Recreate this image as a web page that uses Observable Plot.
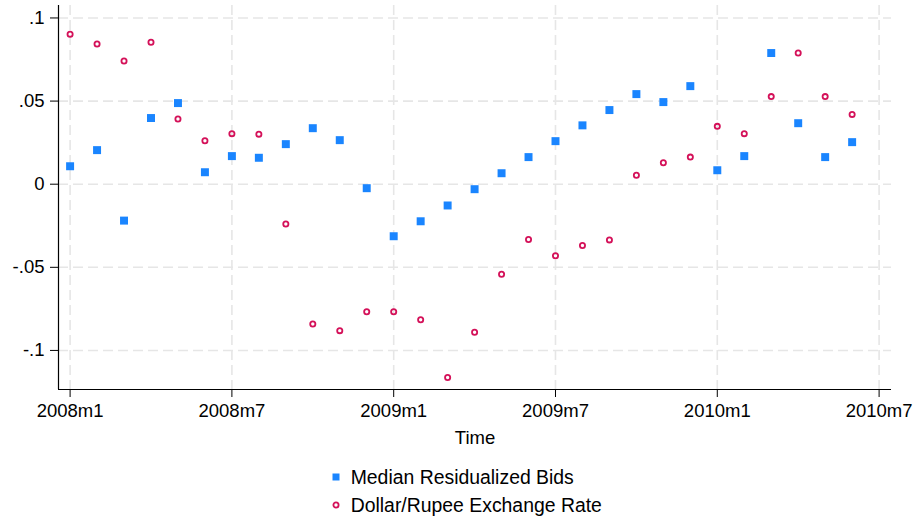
<!DOCTYPE html>
<html>
<head>
<meta charset="utf-8">
<script src="https://cdn.jsdelivr.net/npm/d3@7"></script>
<script src="https://cdn.jsdelivr.net/npm/@observablehq/plot@0.6"></script>
<style>
  body { margin: 0; background: #fff; }
  #chart { position: relative; width: 916px; height: 518px; font-family: "Liberation Sans", Arial, Helvetica, sans-serif; }
  #chart > svg { position: absolute; left: 0; top: 0; }
  .legend { position: absolute; left: 331px; top: 463px; font-size: 19.4px; color: #000; }
  .item { display: flex; align-items: center; height: 28px; white-space: nowrap; }
  .item svg { width: 10px; height: 10px; margin-right: 9.7px; flex: none; }
</style>
</head>
<body>
<div id="chart"></div>
<script>
// Monthly observations, 2008m1 through 2010m6
const months = [
  "2008m1","2008m2","2008m3","2008m4","2008m5","2008m6",
  "2008m7","2008m8","2008m9","2008m10","2008m11","2008m12",
  "2009m1","2009m2","2009m3","2009m4","2009m5","2009m6",
  "2009m7","2009m8","2009m9","2009m10","2009m11","2009m12",
  "2010m1","2010m2","2010m3","2010m4","2010m5","2010m6"
];
const medianBids = [
  0.0108, 0.0205, -0.0219, 0.0398, 0.0488, 0.0072,
  0.0169, 0.0159, 0.0241, 0.0337, 0.0265, -0.0024,
  -0.0313, -0.0223, -0.0128, -0.0030, 0.0066, 0.0163,
  0.0259, 0.0354, 0.0446, 0.0542, 0.0494, 0.0590,
  0.0084, 0.0169, 0.0789, 0.0367, 0.0163, 0.0253
];
const exchangeRate = [
  0.0902, 0.0843, 0.0741, 0.0854, 0.0392, 0.0261,
  0.0304, 0.0301, -0.0239, -0.0841, -0.0881, -0.0767,
  -0.0767, -0.0815, -0.1163, -0.0891, -0.0542, -0.0333,
  -0.0430, -0.0369, -0.0335, 0.0054, 0.0129, 0.0163,
  0.0348, 0.0304, 0.0527, 0.0789, 0.0527, 0.0420
];
const xTickLabels = ["2008m1","2008m7","2009m1","2009m7","2010m1","2010m7"];
const yTicks = [-0.1, -0.05, 0, 0.05, 0.1];
const seriesNames = ["Median Residualized Bids", "Dollar/Rupee Exchange Rate"];

const blue = "#1a85ff";
const red = "#d41159";

// "2008m7" -> months since 2008m1
const monthIndex = s => { const [y, m] = s.split("m").map(Number); return (y - 2008) * 12 + (m - 1); };
const labelFor = new Map(xTickLabels.map(s => [monthIndex(s), s]));
const fmtY = d => d === 0 ? "0" : String(d).replace("0.", ".");

const rows = months.map((m, i) => ({t: monthIndex(m), bids: medianBids[i], fx: exchangeRate[i]}));
const xDomain = [-0.43, 30.46];
const yDomain = [-0.1235, 0.1075];

const chart = Plot.plot({
  width: 916,
  height: 452,
  marginLeft: 58,
  marginRight: 25,
  marginTop: 5,
  marginBottom: 63,
  style: {fontSize: "18.5px", fontFamily: "'Liberation Sans', Arial, Helvetica, sans-serif", background: "#fff", color: "#000"},
  x: {domain: xDomain},
  y: {domain: yDomain},
  marks: [
    Plot.gridY(yTicks, {stroke: "#e6e6e6", strokeOpacity: 1, strokeWidth: 1.6, strokeDasharray: "10,5"}),
    Plot.gridX(xTickLabels.map(monthIndex), {stroke: "#e6e6e6", strokeOpacity: 1, strokeWidth: 1.6, strokeDasharray: "10,5"}),
    Plot.ruleX([xDomain[0]], {stroke: "#000", strokeWidth: 1.2}),
    Plot.ruleY([yDomain[0]], {stroke: "#000", strokeWidth: 1.2}),
    Plot.axisY(yTicks, {tickFormat: fmtY, tickSize: 8, tickPadding: 6, label: null}),
    Plot.axisX(xTickLabels.map(monthIndex), {
      tickFormat: d => labelFor.get(d), tickSize: 8, tickPadding: 6,
      label: "Time", labelAnchor: "center", labelArrow: "none", labelOffset: 54
    }),
    Plot.dot(rows, {x: "t", y: "bids", symbol: "square", r: 4.5, fill: blue, stroke: null}),
    Plot.dot(rows, {x: "t", y: "fx", symbol: "circle", r: 2.6, fill: "none", stroke: red, strokeWidth: 1.8})
  ]
});

const host = document.getElementById("chart");
host.appendChild(chart);

// Legend below the plot
const legend = document.createElement("div");
legend.className = "legend";
const swatches = [
  `<svg viewBox="0 0 10 10"><rect x="1.5" y="1.5" width="7" height="7" fill="${blue}"/></svg>`,
  `<svg viewBox="0 0 10 10"><circle cx="5" cy="5" r="2.6" fill="none" stroke="${red}" stroke-width="1.8"/></svg>`
];
seriesNames.forEach((name, i) => {
  const item = document.createElement("div");
  item.className = "item";
  item.innerHTML = swatches[i] + `<span>${name}</span>`;
  legend.appendChild(item);
});
host.appendChild(legend);
</script>
</body>
</html>
